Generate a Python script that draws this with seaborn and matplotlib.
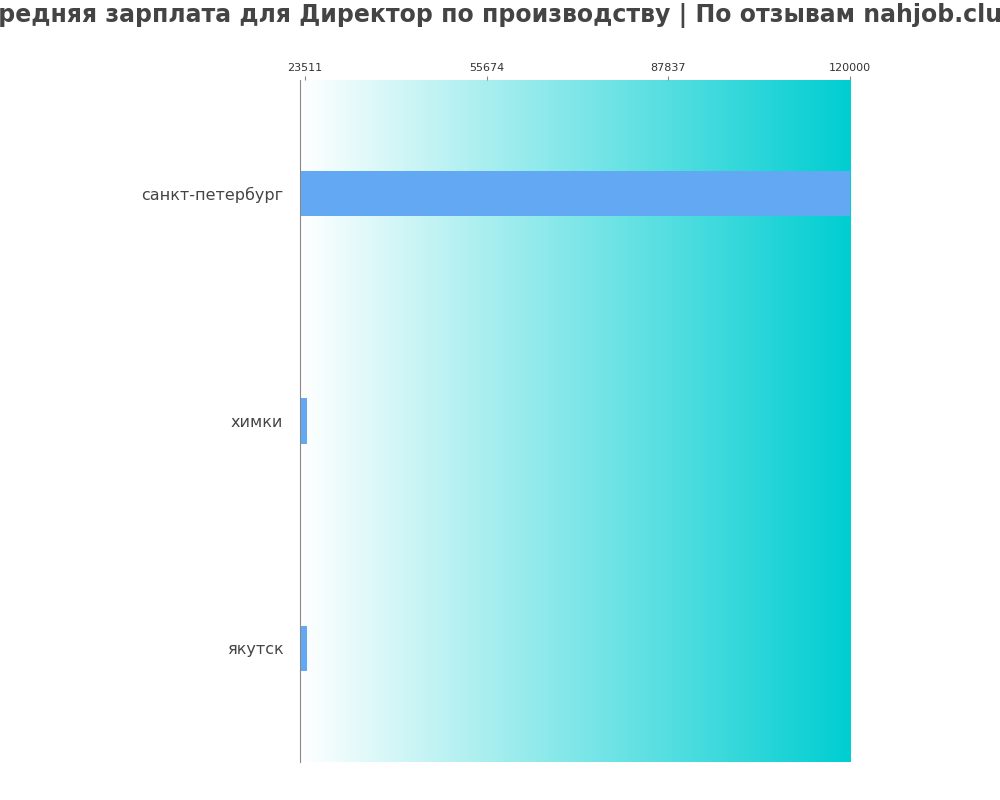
import numpy as np
import pandas as pd
import seaborn as sns
import matplotlib.pyplot as plt
from matplotlib.colors import LinearSegmentedColormap

cities = ['санкт-петербург', 'химки', 'якутск']
salaries = [120000, 23900, 23900]
ticks = [23511, 55674, 87837, 120000]

sns.set_style('white')
plt.rcParams['font.family'] = ['DejaVu Sans']

fig = plt.figure(figsize=(10, 8), dpi=100)
ax = fig.add_axes([0.3, 0.0475, 0.55, 0.8525])

xmin, xmax = 22620, 120000
cmap = LinearSegmentedColormap.from_list('bg', ['#ffffff', '#00ced1'])
grad = np.linspace(0, 1, 256).reshape(1, -1)
ax.imshow(grad, cmap=cmap, aspect='auto', extent=[xmin, xmax, 2.5, -0.5], zorder=0)

df = pd.DataFrame({'city': cities, 'salary': salaries})
sns.barplot(data=df, x='salary', y='city', color='#62a8f3', saturation=1,
            width=0.2, linewidth=0, ax=ax, zorder=2)

ax.set_xlim(xmin, xmax)
ax.set_ylim(2.5, -0.5)
ax.xaxis.tick_top()
ax.set_xticks(ticks)
ax.set_xticklabels([str(t) for t in ticks], fontsize=8, color='#333333')
ax.tick_params(axis='x', length=3, color='#888888', pad=2)
ax.tick_params(axis='y', length=0, labelsize=11.5, labelcolor='#444444', pad=12)
ax.set_xlabel('')
ax.set_ylabel('')
for side in ['right', 'bottom', 'top']:
    ax.spines[side].set_visible(False)
ax.spines['left'].set_color('#888888')

fig.text(0.5, 0.981, 'Средняя зарплата для Директор по производству | По отзывам nahjob.club',
         ha='center', va='center', fontsize=17, fontweight='bold', color='#444444')

fig.savefig('out.png', dpi=100)
